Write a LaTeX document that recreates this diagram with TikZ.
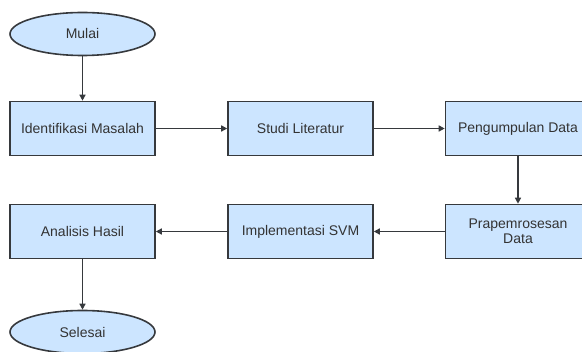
\documentclass[tikz,border=0pt]{standalone}
\usepackage{fontspec}
\setmainfont{Liberation Sans}
\usetikzlibrary{arrows.meta,shapes.geometric}

\definecolor{boxfill}{HTML}{CCE5FF}
\definecolor{boxline}{HTML}{36393D}

\begin{document}
\begin{tikzpicture}[x=1pt, y=-1pt, font=\fontsize{14}{15}\selectfont, >={Triangle[length=6pt,width=6pt]},
  process/.style={rectangle, draw=boxline, fill=boxfill, line width=1.6pt, minimum width=145pt, minimum height=54pt, text=black!80, align=center, inner sep=0pt},
  terminal/.style={ellipse, draw=boxline, fill=boxfill, line width=1.6pt, minimum width=145pt, minimum height=43pt, text=black!80, inner sep=0pt},
  flow/.style={->, line width=1.5pt, draw=boxline}]

% Frame
\useasboundingbox (0,0) rectangle (582,352);
\clip (0,0) rectangle (582,352);

% Start and end
\node[terminal] (mulai) at (82.5,34) {Mulai};
\node[terminal] (selesai) at (82.5,332) {Selesai};

% First row
\node[process] (identifikasi) at (82.5,128.5) {Identifikasi Masalah};
\node[process] (studi) at (300.5,128.5) {Studi Literatur};
\node[process] (pengumpulan) at (518,128.5) {Pengumpulan Data};

% Second row
\node[process] (prapemrosesan) at (518,231.5) {Prapemrosesan\\Data};
\node[process] (implementasi) at (300.5,231.5) {Implementasi SVM};
\node[process] (analisis) at (82.5,231.5) {Analisis Hasil};

% Flow
\draw[flow] (mulai) -- (identifikasi);
\draw[flow] (identifikasi) -- (studi);
\draw[flow] (studi) -- (pengumpulan);
\draw[flow] (pengumpulan) -- (prapemrosesan);
\draw[flow] (prapemrosesan) -- (implementasi);
\draw[flow] (implementasi) -- (analisis);
\draw[flow] (analisis) -- (selesai);

\end{tikzpicture}
\end{document}
